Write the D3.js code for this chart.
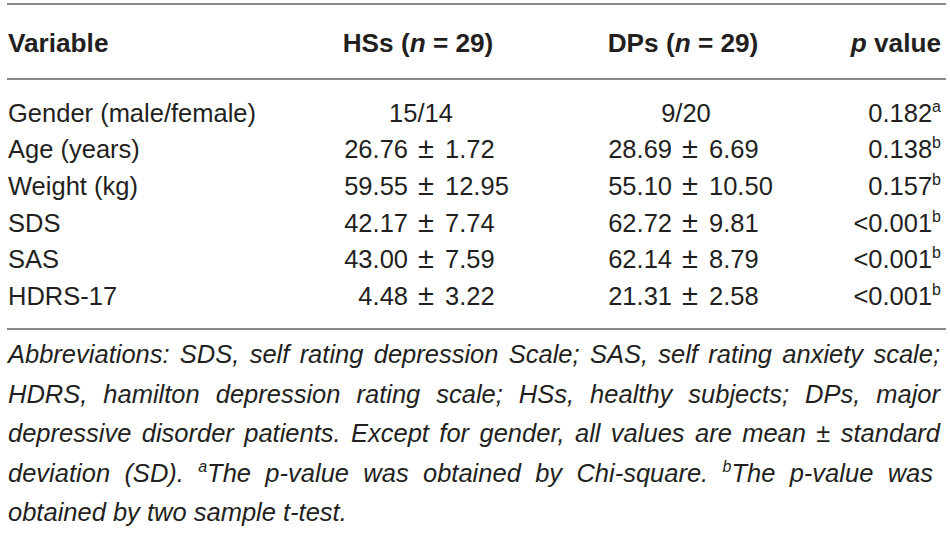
<!DOCTYPE html>
<html><head><meta charset="utf-8">
<script src="https://cdn.jsdelivr.net/npm/d3@7"></script>
<style>
body{margin:0;background:#fff}
svg{display:block}
text{font-family:"Liberation Sans",Arial,Helvetica,sans-serif;fill:#231f20}
</style>
</head><body>
<svg id="c" width="950" height="538"></svg>
<script>
// ---- data ----
const variables = ["Gender (male/female)", "Age (years)", "Weight (kg)", "SDS", "SAS", "HDRS-17"];
const groupLabels = ["HSs", "DPs"];
const groupN = [29, 29];
const genderCounts = ["15/14", "9/20"];
const hsMean = [26.76, 59.55, 42.17, 43.00, 4.48];
const hsSD   = [1.72, 12.95, 7.74, 7.59, 3.22];
const dpMean = [28.69, 55.10, 62.72, 62.14, 21.31];
const dpSD   = [6.69, 10.50, 9.81, 8.79, 2.58];
const pValues = ["0.182", "0.138", "0.157", "<0.001", "<0.001", "<0.001"];
const pNotes  = ["a", "b", "b", "b", "b", "b"];
const footnoteLines = [
  "Abbreviations: SDS, self rating depression Scale; SAS, self rating anxiety scale;",
  "HDRS, hamilton depression rating scale; HSs, healthy subjects; DPs, major",
  "depressive disorder patients. Except for gender, all values are mean \u00b1 standard",
  "deviation (SD). ^aThe p-value was obtained by Chi-square. ^bThe p-value was",
  "obtained by two sample t-test."
];

// ---- layout ----
const svg = d3.select("#c");
const FS = 25.5;
const HFS = 26.2;
const fmt = d3.format(".2f");

const rowY = d3.scalePoint().domain(variables).range([121.5, 305]);
const footY = d3.scalePoint().domain(d3.range(footnoteLines.length)).range([363, 521]);
const colX = d3.scaleOrdinal().domain(["var", "HSs", "DPs", "p"]).range([8, 418, 683, 941]);
const meanEnd = d3.scaleOrdinal().domain(groupLabels).range([408, 672]);

// rules
svg.selectAll("line.rule").data([4, 79, 329]).join("line")
  .attr("class", "rule")
  .attr("x1", 7).attr("x2", 946)
  .attr("y1", d => d).attr("y2", d => d)
  .attr("stroke", "#8a8a8a").attr("stroke-width", 1.8);

// header
const hdrY = 52;
svg.append("text").attr("x", colX("var")).attr("y", hdrY)
  .attr("font-size", HFS).attr("font-weight", "bold").text("Variable");
groupLabels.forEach((g, i) => {
  const t = svg.append("text").attr("x", colX(g)).attr("y", hdrY)
    .attr("font-size", HFS).attr("font-weight", "bold").attr("text-anchor", "middle");
  t.append("tspan").text(g + " (");
  t.append("tspan").attr("font-style", "italic").text("n");
  t.append("tspan").text(" = " + groupN[i] + ")");
});
{
  const t = svg.append("text").attr("x", colX("p")).attr("y", hdrY)
    .attr("font-size", HFS).attr("font-weight", "bold").attr("text-anchor", "end");
  t.append("tspan").attr("font-style", "italic").text("p");
  t.append("tspan").text(" value");
}

// variable names
svg.selectAll("text.var").data(variables).join("text")
  .attr("class", "var").attr("x", colX("var")).attr("y", d => rowY(d))
  .attr("font-size", FS).text(d => d);

// gender row
groupLabels.forEach((g, i) => {
  svg.append("text").attr("x", colX(g) + 3).attr("y", rowY(variables[0]))
    .attr("font-size", FS).attr("text-anchor", "middle").text(genderCounts[i]);
});

// mean ± sd rows
const groups = [
  {g: "HSs", mean: hsMean, sd: hsSD},
  {g: "DPs", mean: dpMean, sd: dpSD}
];
groups.forEach(G => {
  const rows = variables.slice(1).map((v, i) => ({v, m: G.mean[i], s: G.sd[i]}));
  const x0 = meanEnd(G.g);
  const sel = svg.selectAll(null).data(rows).enter();
  sel.append("text").attr("x", x0).attr("y", d => rowY(d.v))
    .attr("font-size", FS).attr("text-anchor", "end").text(d => fmt(d.m));
  sel.append("text").attr("x", x0 + 18).attr("y", d => rowY(d.v))
    .attr("font-size", 29).attr("text-anchor", "middle").text("\u00b1");
  sel.append("text").attr("x", x0 + 37).attr("y", d => rowY(d.v))
    .attr("font-size", FS).attr("text-anchor", "start").text(d => fmt(d.s));
});

// p values
variables.forEach((v, i) => {
  const t = svg.append("text").attr("x", colX("p")).attr("y", rowY(v))
    .attr("font-size", FS).attr("text-anchor", "end");
  t.append("tspan").text(pValues[i]);
  t.append("tspan").attr("font-size", 16).attr("dy", -10).text(pNotes[i]);
});

// footnote (justified)
const left = 8, right = 940;
footnoteLines.forEach((line, li) => {
  const words = line.split(" ");
  const g = svg.append("g");
  const nodes = words.map(w => {
    const t = g.append("text").attr("y", footY(li)).attr("font-size", FS).attr("font-style", "italic");
    if (w[0] === "^") {
      t.append("tspan").attr("font-size", 16).attr("dy", -10).text(w[1]);
      t.append("tspan").attr("dy", 10).text(w.slice(2));
    } else {
      t.text(w);
    }
    return t;
  });
  const widths = nodes.map(n => n.node().getComputedTextLength());
  const total = d3.sum(widths);
  const last = li === footnoteLines.length - 1;
  const lineRight = li === 3 ? 933 : right;
  const gap = last ? FS * 0.278 : (lineRight - left - total) / (words.length - 1);
  let x = left;
  nodes.forEach((n, i) => { n.attr("x", x); x += widths[i] + gap; });
});
</script>
</body></html>
